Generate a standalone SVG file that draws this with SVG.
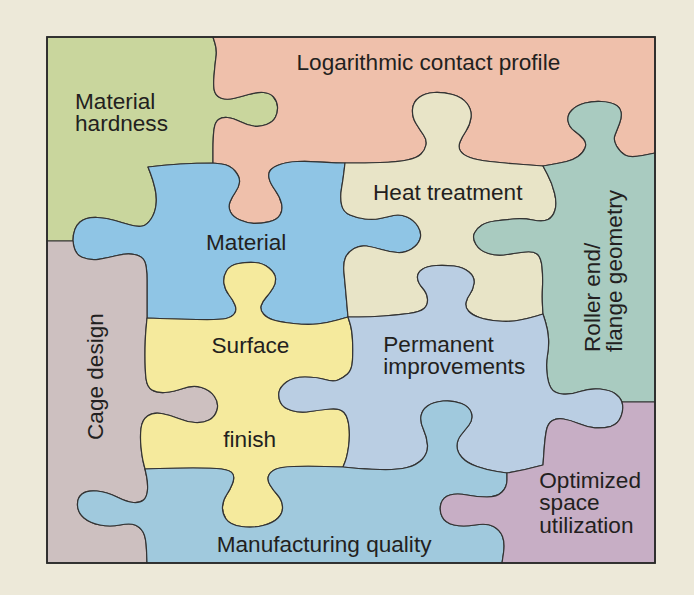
<svg xmlns="http://www.w3.org/2000/svg" width="694" height="595" viewBox="0 0 694 595">
<style>
.pc{stroke:#333;stroke-width:1.2;stroke-linejoin:round}
.t{font-family:"Liberation Sans",Arial,Helvetica,sans-serif;font-size:22.6px;fill:#231f20}
</style>
<rect x="0" y="0" width="694" height="595" fill="#ede9d9"/>
<g id="material-hardness">
<path class="pc" fill="#c9d69d" d="M47,37 L213,37 L215,43.5 Q217,50 216,57 Q215,64 214,76 Q213,88 215,92.5 Q217,97 222,98.5 Q227,100 233.5,98.5 Q240,97 248.5,94.5 Q257,92 263.5,92.5 Q270,93 273.5,97 Q277,101 277.5,106.5 Q278,112 275.5,117 Q273,122 266.5,124.5 Q260,127 253.5,126 Q247,125 240,121.5 Q233,118 227.5,117.5 Q222,117 218.5,119.5 Q215,122 214,129.5 Q213,137 213,150 L213,163 Q180,163 148,167 L150.5,173.5 Q153,180 155,188.5 Q157,197 156,205 Q155,213 151,219 Q147,225 142.5,226 Q138,227 130.5,225 Q123,223 115,220.5 Q107,218 97.5,217.5 Q86,217 80,222 Q73,228 73,241 L47,241 Z"/>
<text class="t" x="75" y="109">Material</text>
<text class="t" x="75" y="131">hardness</text>
</g>
<g id="logarithmic-contact-profile">
<path class="pc" fill="#efc0ab" d="M213,37 L655,37 L655,153 L642.5,155.5 Q630,158 625,155 Q620,152 616.5,146 Q613,140 615,135 Q617,130 619.5,123.5 Q622,117 621,112 Q620,107 615,104.5 Q610,102 601.5,101.5 Q593,101 585,103 Q577,105 572,110 Q567,115 568,121 Q569,127 574.5,131 Q580,135 583.5,139 Q587,143 585,148 Q583,153 578,156.5 Q573,160 566.5,161.5 Q560,163 551.5,164.5 L543,166 L536.5,165.5 Q530,165 516.5,164 Q503,163 490,161.5 Q477,160 470,157.5 Q463,155 460.5,151 Q458,147 460,142 Q462,137 466,131 Q470,125 471,117.5 Q472,110 467,103.5 Q462,97 452.5,94.5 Q443,92 434,92.5 Q425,93 419,97.5 Q413,102 412.5,109.5 Q412,117 416,123.5 Q420,130 423.5,135 Q427,140 426,145 Q425,150 421,154 Q417,158 407,160 Q397,162 380,162.5 Q363,163 354,163 L345,163 L336,162.8 Q327,162.5 317,161.8 Q307,161 297,161.5 Q287,162 280,164.5 Q273,167 270.5,170 Q268,173 269,178 Q270,183 275,190 Q280,197 281.5,203.5 Q283,210 280,215 Q277,220 268.5,221.8 Q260,223.5 253.5,223.3 Q247,223 240,220 Q233,217 230.5,212 Q228,207 230,202 Q232,197 235.5,192 Q239,187 239.5,182 Q240,177 235,171 Q230,165 221.5,164 L213,163 L213,150 Q213,137 214,129.5 Q215,122 218.5,119.5 Q222,117 227.5,117.5 Q233,118 240,121.5 Q247,125 253.5,126 Q260,127 266.5,124.5 Q273,122 275.5,117 Q278,112 277.5,106.5 Q277,101 273.5,97 Q270,93 263.5,92.5 Q257,92 248.5,94.5 Q240,97 233.5,98.5 Q227,100 222,98.5 Q217,97 215,92.5 Q213,88 214,76 Q215,64 216,57 Q217,50 215,43.5 Z"/>
<text class="t" x="296.5" y="70">Logarithmic contact profile</text>
</g>
<g id="material">
<path class="pc" fill="#8fc5e5" d="M213,163 L221.5,164 Q230,165 235,171 Q240,177 239.5,182 Q239,187 235.5,192 Q232,197 230,202 Q228,207 230.5,212 Q233,217 240,220 Q247,223 253.5,223.3 Q260,223.5 268.5,221.8 Q277,220 280,215 Q283,210 281.5,203.5 Q280,197 275,190 Q270,183 269,178 Q268,173 270.5,170 Q273,167 280,164.5 Q287,162 297,161.5 Q307,161 317,161.8 Q327,162.5 336,162.8 L345,163 L344,171.5 Q343,180 341.5,188.5 Q340,197 341.5,204.5 Q343,212 350,215 Q357,218 365,219 Q373,220 380,218.5 Q387,217 393.5,215.5 Q400,214 407,217 Q414,220 418,226.5 Q422,233 420,239 Q418,245 411.5,249 Q405,253 397.5,252.5 Q390,252 381.5,249.5 Q373,247 366.5,246 Q360,245 354,248.5 Q348,252 345.5,257.5 Q343,263 344,273 Q345,283 346.5,300 L348,317 L337.5,320 Q327,323 317,324 Q307,325 293.5,323.5 Q280,322 273.5,320 Q267,318 263.5,314 Q260,310 261,306 Q262,302 266,297.5 Q270,293 273,288 Q276,283 275.5,278 Q275,273 269,268 Q263,263 255,262.5 Q247,262 238.5,263.5 Q230,265 226.5,271 Q223,277 224,283.5 Q225,290 229,295 Q233,300 235,305 Q237,310 234.5,313.5 Q232,317 226,318.5 Q220,320 196.5,319.5 Q173,319 160,318.5 L147,318 L147,280 Q147,266 144.5,261 Q142,256 134.5,254.5 Q127,253 117,255.5 Q107,258 98.5,259.3 Q90,260.5 82,257.3 Q74,254 73,241 Q73,228 80,222 Q86,217 97.5,217.5 Q107,218 115,220.5 Q123,223 130.5,225 Q138,227 142.5,226 Q147,225 151,219 Q155,213 156,205 Q157,197 155,188.5 Q153,180 150.5,173.5 L148,167 Q180,163 213,163 Z"/>
<text class="t" x="206" y="250">Material</text>
</g>
<g id="heat-treatment">
<path class="pc" fill="#e8e4c7" d="M345,163 L354,163 Q363,163 380,162.5 Q397,162 407,160 Q417,158 421,154 Q425,150 426,145 Q427,140 423.5,135 Q420,130 416,123.5 Q412,117 412.5,109.5 Q413,102 419,97.5 Q425,93 434,92.5 Q443,92 452.5,94.5 Q462,97 467,103.5 Q472,110 471,117.5 Q470,125 466,131 Q462,137 460,142 Q458,147 460.5,151 Q463,155 470,157.5 Q477,160 490,161.5 Q503,163 516.5,164 Q530,165 536.5,165.5 L543,166 L547.5,174.5 Q552,183 554.5,193 Q557,203 555,210 Q553,217 548,219.5 Q543,222 533,220 Q523,218 513,219 Q503,220 495,221 Q487,222 482,225 Q477,228 474.5,233 Q472,238 476,244.5 Q480,251 488.5,253.5 Q497,256 507,254.5 Q517,253 525,252 Q533,251 537,254 Q541,257 542,267 Q543,277 542.5,287 Q542,297 542.5,305.5 L543,314 L536.5,316 Q530,318 520,320 Q510,322 498.5,321 Q487,320 479.5,317.5 Q472,315 468.5,311 Q465,307 466,302.5 Q467,298 470,294 Q473,290 474,283.5 Q475,277 469,272 Q463,267 454,266 Q445,265 436,265.5 Q427,266 422,269.5 Q417,273 417.5,278 Q418,283 422.5,288 Q427,293 427.5,299 Q428,305 424,308.5 Q420,312 408.5,313.5 Q397,315 383.5,316 Q370,317 359,317 L348,317 L346.5,300 Q345,283 344,273 Q343,263 345.5,257.5 Q348,252 354,248.5 Q360,245 366.5,246 Q373,247 381.5,249.5 Q390,252 397.5,252.5 Q405,253 411.5,249 Q418,245 420,239 Q422,233 418,226.5 Q414,220 407,217 Q400,214 393.5,215.5 Q387,217 380,218.5 Q373,220 365,219 Q357,218 350,215 Q343,212 341.5,204.5 Q340,197 341.5,188.5 Q343,180 344,171.5 Z"/>
<text class="t" x="373" y="200">Heat treatment</text>
</g>
<g id="roller-end-flange-geometry">
<path class="pc" fill="#a9cbc0" d="M543,166 L551.5,164.5 Q560,163 566.5,161.5 Q573,160 578,156.5 Q583,153 585,148 Q587,143 583.5,139 Q580,135 574.5,131 Q569,127 568,121 Q567,115 572,110 Q577,105 585,103 Q593,101 601.5,101.5 Q610,102 615,104.5 Q620,107 621,112 Q622,117 619.5,123.5 Q617,130 615,135 Q613,140 616.5,146 Q620,152 625,155 Q630,158 642.5,155.5 L655,153 L655,402 L622,402 Q620,397 615,393.5 Q610,390 600,389 Q590,388 580,391.5 Q570,395 562,394 Q554,393 551,388 Q548,383 547,373 Q546,363 547.5,355 Q549,347 548.5,338.5 Q548,330 545.5,322 L543,314 L542.5,305.5 Q542,297 542.5,287 Q543,277 542,267 Q541,257 537,254 Q533,251 525,252 Q517,253 507,254.5 Q497,256 488.5,253.5 Q480,251 476,244.5 Q472,238 474.5,233 Q477,228 482,225 Q487,222 495,221 Q503,220 513,219 Q523,218 533,220 Q543,222 548,219.5 Q553,217 555,210 Q557,203 554.5,193 Q552,183 547.5,174.5 Z"/>
<text class="t" transform="translate(600,352) rotate(-90)">Roller end/</text>
<text class="t" transform="translate(622,352) rotate(-90)">flange geometry</text>
</g>
<g id="cage-design">
<path class="pc" fill="#cdc0c0" d="M47,241 L73,241 Q74,254 82,257.3 Q90,260.5 98.5,259.3 Q107,258 117,255.5 Q127,253 134.5,254.5 Q142,256 144.5,261 Q147,266 147,280 L147,318 L146,329 Q145,340 145,355 Q145,370 146,378.5 Q147,387 152,390 Q157,393 165,392.5 Q173,392 183,388.5 Q193,385 201.5,387.5 Q210,390 214.5,396.5 Q219,403 217,410 Q215,417 209,420 Q203,423 195,422.5 Q187,422 178.5,418.5 Q170,415 161.5,413.5 Q153,412 147.5,416 Q142,420 141,428.5 Q140,437 141,447 Q142,457 143.5,463 L145,469 L146.5,476 Q148,483 147.5,490 Q147,497 143.5,500 Q140,503 133.5,502.5 Q127,502 117,497 Q107,492 97,491 Q87,490 82,494 Q77,498 77.5,505.5 Q78,513 84,518 Q90,523 100,525 Q110,527 120,525 Q130,523 135,525 Q140,527 143,532 Q146,537 146.5,550 L147,563 L47,563 Z"/>
<text class="t" transform="translate(102.5,440) rotate(-90)">Cage design</text>
</g>
<g id="surface-finish">
<path class="pc" fill="#f5ea9d" d="M147,318 L160,318.5 Q173,319 196.5,319.5 Q220,320 226,318.5 Q232,317 234.5,313.5 Q237,310 235,305 Q233,300 229,295 Q225,290 224,283.5 Q223,277 226.5,271 Q230,265 238.5,263.5 Q247,262 255,262.5 Q263,263 269,268 Q275,273 275.5,278 Q276,283 273,288 Q270,293 266,297.5 Q262,302 261,306 Q260,310 263.5,314 Q267,318 273.5,320 Q280,322 293.5,323.5 Q307,325 317,324 Q327,323 337.5,320 L348,317 L350,323.5 Q352,330 352.5,340 Q353,350 352.5,360 Q352,370 347.5,374 Q343,378 338,380 Q333,382 325,379.5 Q317,377 305,377 Q293,377 286.5,382 Q280,387 279,392 Q278,397 280.5,402.5 Q283,408 291.5,410.5 Q300,413 310,411.5 Q320,410 330,409 Q340,408 344,412.5 Q348,417 349,427 Q350,437 348.5,447 Q347,457 345,462 L343,467 L325,466.5 Q307,466 293.5,466.5 Q280,467 275,469.5 Q270,472 268.5,476 Q267,480 270,485 Q273,490 277.5,495 Q282,500 282.5,506.5 Q283,513 278,518 Q273,523 263,525.5 Q253,528 241.5,526.5 Q230,525 226,519 Q222,513 222.5,506.5 Q223,500 226.5,495 Q230,490 232.5,483.5 Q235,477 232.5,473.5 Q230,470 221.5,469 Q213,468 193,468 Q173,468 159,468.5 L145,469 L143.5,463 Q142,457 141,447 Q140,437 141,428.5 Q142,420 147.5,416 Q153,412 161.5,413.5 Q170,415 178.5,418.5 Q187,422 195,422.5 Q203,423 209,420 Q215,417 217,410 Q219,403 214.5,396.5 Q210,390 201.5,387.5 Q193,385 183,388.5 Q173,392 165,392.5 Q157,393 152,390 Q147,387 146,378.5 Q145,370 145,355 Q145,340 146,329 Z"/>
<text class="t" x="211.5" y="352.7">Surface</text>
<text class="t" x="223.3" y="446.7">finish</text>
</g>
<g id="permanent-improvements">
<path class="pc" fill="#bacee3" d="M348,317 L359,317 Q370,317 383.5,316 Q397,315 408.5,313.5 Q420,312 424,308.5 Q428,305 427.5,299 Q427,293 422.5,288 Q418,283 417.5,278 Q417,273 422,269.5 Q427,266 436,265.5 Q445,265 454,266 Q463,267 469,272 Q475,277 474,283.5 Q473,290 470,294 Q467,298 466,302.5 Q465,307 468.5,311 Q472,315 479.5,317.5 Q487,320 498.5,321 Q510,322 520,320 Q530,318 536.5,316 L543,314 L545.5,322 Q548,330 548.5,338.5 Q549,347 547.5,355 Q546,363 547,373 Q548,383 551,388 Q554,393 562,394 Q570,395 580,391.5 Q590,388 600,389 Q610,390 615,393.5 Q620,397 622,402 Q624,409 621,416.5 Q618,424 611,426.3 Q603,428.5 595,427.8 Q587,427 578.5,423.5 Q570,420 563.5,419 Q557,418 552.5,420.5 Q548,423 546.5,430 Q545,437 544,451 L543,465 Q525,470 507,473 L497,471.5 Q487,470 477,466.5 Q467,463 462,457.5 Q457,452 457,446 Q457,440 461,435 Q465,430 469,425 Q473,420 471.5,413.5 Q470,407 461.5,403.5 Q453,400 443,401 Q433,402 427.5,406 Q422,410 421,416 Q420,422 423.5,429.5 Q427,437 427.5,445 Q428,453 422.5,459 Q417,465 407,467.5 Q397,470 380,469.5 Q363,469 353,468 L343,467 L345,462 Q347,457 348.5,447 Q350,437 349,427 Q348,417 344,412.5 Q340,408 330,409 Q320,410 310,411.5 Q300,413 291.5,410.5 Q283,408 280.5,402.5 Q278,397 279,392 Q280,387 286.5,382 Q293,377 305,377 Q317,377 325,379.5 Q333,382 338,380 Q343,378 347.5,374 Q352,370 352.5,360 Q353,350 352.5,340 Q352,330 350,323.5 Z"/>
<text class="t" x="383.3" y="351.7">Permanent</text>
<text class="t" x="383.3" y="374.3">improvements</text>
</g>
<g id="manufacturing-quality">
<path class="pc" fill="#a0c9dd" d="M145,469 L159,468.5 Q173,468 193,468 Q213,468 221.5,469 Q230,470 232.5,473.5 Q235,477 232.5,483.5 Q230,490 226.5,495 Q223,500 222.5,506.5 Q222,513 226,519 Q230,525 241.5,526.5 Q253,528 263,525.5 Q273,523 278,518 Q283,513 282.5,506.5 Q282,500 277.5,495 Q273,490 270,485 Q267,480 268.5,476 Q270,472 275,469.5 Q280,467 293.5,466.5 Q307,466 325,466.5 L343,467 L353,468 Q363,469 380,469.5 Q397,470 407,467.5 Q417,465 422.5,459 Q428,453 427.5,445 Q427,437 423.5,429.5 Q420,422 421,416 Q422,410 427.5,406 Q433,402 443,401 Q453,400 461.5,403.5 Q470,407 471.5,413.5 Q473,420 469,425 Q465,430 461,435 Q457,440 457,446 Q457,452 462,457.5 Q467,463 477,466.5 Q487,470 497,471.5 L507,473 L507,480 Q507,487 502,492 Q497,497 487,497 Q477,497 467,495 Q457,493 450,495 Q443,497 441,503.5 Q439,510 442,516.5 Q445,523 454,525 Q463,527 475,525 Q487,523 493.5,526.5 Q500,530 502.5,536.5 Q505,543 503.5,553 L502,563 L147,563 L146.5,550 Q146,537 143,532 Q140,527 135,525 Q130,523 120,525 Q110,527 100,525 Q90,523 84,518 Q78,513 77.5,505.5 Q77,498 82,494 Q87,490 97,491 Q107,492 117,497 Q127,502 133.5,502.5 Q140,503 143.5,500 Q147,497 147.5,490 Q148,483 146.5,476 Z"/>
<text class="t" x="216.7" y="551.7">Manufacturing quality</text>
</g>
<g id="optimized-space-utilization">
<path class="pc" fill="#c7aec5" d="M507,473 Q525,470 543,465 L544,451 Q545,437 546.5,430 Q548,423 552.5,420.5 Q557,418 563.5,419 Q570,420 578.5,423.5 Q587,427 595,427.8 Q603,428.5 611,426.3 Q618,424 621,416.5 Q624,409 622,402 L655,402 L655,563 L502,563 L503.5,553 Q505,543 502.5,536.5 Q500,530 493.5,526.5 Q487,523 475,525 Q463,527 454,525 Q445,523 442,516.5 Q439,510 441,503.5 Q443,497 450,495 Q457,493 467,495 Q477,497 487,497 Q497,497 502,492 Q507,487 507,480 Z"/>
<text class="t" x="539.3" y="487.7">Optimized</text>
<text class="t" x="539.3" y="510">space</text>
<text class="t" x="539.3" y="533.3">utilization</text>
</g>
<g id="connectors">
<rect x="47" y="37" width="608" height="526" fill="none" stroke="#2a2a2a" stroke-width="1.8"/>
</g>
</svg>
